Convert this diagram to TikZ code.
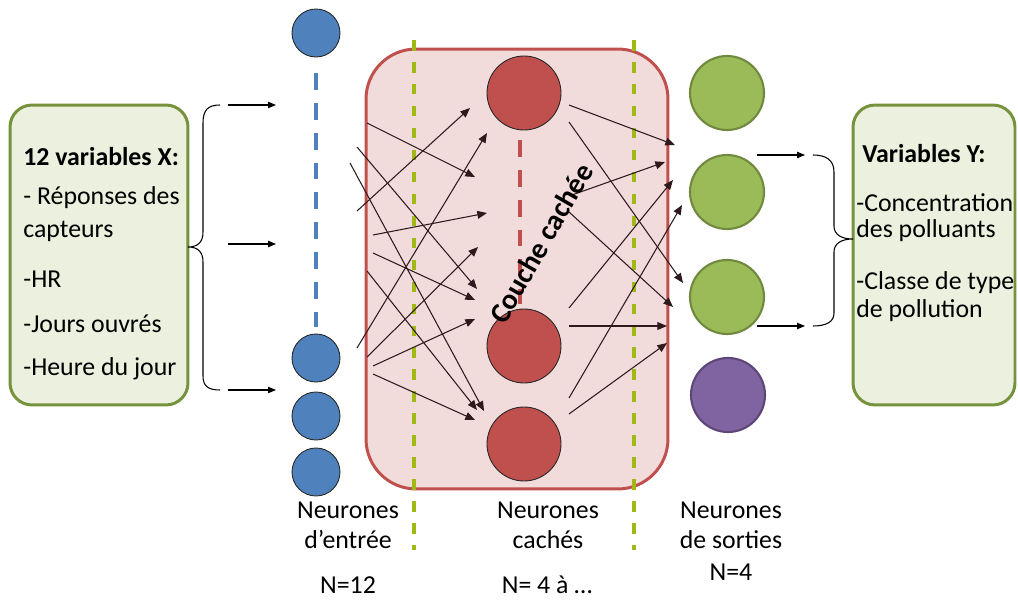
\documentclass[tikz,border=0pt]{standalone}
\usepackage{fontspec}
\setmainfont{Carlito}
\usetikzlibrary{arrows.meta}
\definecolor{boxfill}{HTML}{EBF1DE}
\definecolor{boxline}{HTML}{76923C}
\definecolor{inblue}{HTML}{4F81BD}
\definecolor{hidfill}{HTML}{F2DCDB}
\definecolor{hidred}{HTML}{C0504D}
\definecolor{outgreen}{HTML}{9BBB59}
\definecolor{outgreenline}{HTML}{71893F}
\definecolor{outpurple}{HTML}{8064A2}
\definecolor{outpurpleline}{HTML}{5C4776}
\definecolor{sepgreen}{RGB}{160,185,20}
\definecolor{conncol}{HTML}{2E1A1C}
\begin{document}
\begin{tikzpicture}[x=0.02cm,y=-0.02cm,
  every node/.style={font=\fontsize{14.7}{17.6}\selectfont},
  varbox/.style={draw=boxline, fill=boxfill, line width=1.7pt, rounded corners=0.44cm, minimum height=6cm, inner sep=0},
  hidbox/.style={draw=hidred, fill=hidfill, line width=1.7pt, rounded corners=1cm, minimum width=6.04cm, minimum height=8.8cm, inner sep=0},
  incirc/.style={circle, draw=black!85, fill=inblue, line width=0.5pt, minimum size=0.96cm, inner sep=0},
  hidcirc/.style={circle, draw=black!85, fill=hidred, line width=0.5pt, minimum size=1.48cm, inner sep=0},
  outcirc/.style={circle, draw=outgreenline, fill=outgreen, line width=1.2pt, minimum size=1.48cm, inner sep=0},
  purpcirc/.style={circle, draw=outpurpleline, fill=outpurple, line width=1.2pt, minimum size=1.48cm, inner sep=0},
  sepline/.style={draw=sepgreen, line width=2.1pt, dash pattern=on 6pt off 6.5pt},
  layerdash/.style={line width=2.3pt, dash pattern=on 9.6pt off 7.4pt},
  conn/.style={draw=conncol, line width=0.6pt, -{Triangle[length=5.5pt,width=4.5pt]}},
  outarrow/.style={draw=black, line width=0.6pt, -{Triangle[length=4.5pt,width=3.6pt]}},
  bracestyle/.style={draw=black, line width=0.6pt},
  txt/.style={anchor=base west, inner sep=0},
  lbl/.style={anchor=base, inner sep=0}
]
\useasboundingbox (0,0) rectangle (1018,601);

% hidden-layer box
\node[hidbox] (hbox) at (517,269) {};

% separators
\coordinate (sep1t) at (414,40);
\coordinate (sep1b) at (414,550);
\coordinate (sep2t) at (634,40);
\coordinate (sep2b) at (634,550);
\draw[sepline] (sep1t) -- (sep1b);
\draw[sepline] (sep2t) -- (sep2b);

% variable boxes
\node[varbox, minimum width=3.56cm] (xbox) at (99,255) {};
\node[varbox, minimum width=3.24cm] (ybox) at (934,255) {};

% input neurons
\node[incirc] (i1) at (316,33) {};
\node[incirc] (i2) at (316,358) {};
\node[incirc] (i3) at (316,416) {};
\node[incirc] (i4) at (316,472) {};
\coordinate (idt) at (316,73);
\coordinate (idb) at (316,327);
\draw[layerdash, draw=inblue] (idt) -- (idb);

% hidden neurons
\node[hidcirc] (h1) at (524,93) {};
\node[hidcirc] (h2) at (524,346) {};
\node[hidcirc] (h3) at (524,444) {};
\coordinate (hdt) at (520,140);
\coordinate (hdb) at (520,304);
\draw[layerdash, draw=hidred] (hdt) -- (hdb);

% output neurons
\node[outcirc] (o1) at (727,93) {};
\node[outcirc] (o2) at (727,192) {};
\node[outcirc] (o3) at (727,297) {};
\node[purpcirc] (o4) at (728,395) {};

% input -> hidden connections
\foreach \n/\sx/\sy/\tx/\ty in {a/367/123/475/177, b/357/147/477/289, c/350/163/484/411,
  d/357/211/470/108, e/373/235/487/213, f/373/253/475/300, g/367/271/477/410,
  h/357/348/487/133, i/367/357/478/247, j/373/366/475/319, k/373/374/475/420}{
  \coordinate (ls\n) at (\sx,\sy);
  \coordinate (lt\n) at (\tx,\ty);
  \draw[conn] (ls\n) -- (lt\n);
}
% hidden -> output connections
\foreach \n/\sx/\sy/\tx/\ty in {a/569/105/675/145, b/569/122/683/283, c/572/195/665/162,
  d/569/212/673/307, e/569/308/673/180, f/569/398/682/205, g/569/326/667/326, h/569/414/667/343}{
  \coordinate (rs\n) at (\sx,\sy);
  \coordinate (rt\n) at (\tx,\ty);
  \draw[conn] (rs\n) -- (rt\n);
}

% braces
\draw[bracestyle] (220,105) .. controls (208,105) and (203,110) .. (203,123) -- (203,232)
  .. controls (203,242) and (198,247) .. (188,247)
  .. controls (198,247) and (203,252) .. (203,262) -- (203,376)
  .. controls (203,386) and (208,390) .. (220,390);
\draw[bracestyle] (813,155) .. controls (826,155) and (834,160) .. (834,172) -- (834,226)
  .. controls (834,235) and (842,239) .. (853,239)
  .. controls (842,239) and (834,243) .. (834,252) -- (834,313)
  .. controls (834,322) and (826,326) .. (813,326);

% input arrows
\coordinate (ia1) at (228,105); \coordinate (ib1) at (276,105);
\coordinate (ia2) at (228,244); \coordinate (ib2) at (276,244);
\coordinate (ia3) at (228,390); \coordinate (ib3) at (276,390);
\draw[outarrow] (ia1) -- (ib1);
\draw[outarrow] (ia2) -- (ib2);
\draw[outarrow] (ia3) -- (ib3);
% output arrows
\coordinate (oa1) at (757,155); \coordinate (ob1) at (805,155);
\coordinate (oa2) at (757,326); \coordinate (ob2) at (805,326);
\draw[outarrow] (oa1) -- (ob1);
\draw[outarrow] (oa2) -- (ob2);

% left box text
\node[txt, font=\bfseries\fontsize{14.7}{17.6}\selectfont] (x1) at (23,166) {12 variables X:};
\node[txt] (x2) at (23,205) {- Réponses des};
\node[txt] (x3) at (23,238) {capteurs};
\node[txt] (x4) at (23,288) {-HR};
\node[txt] (x5) at (23,333) {-Jours ouvrés};
\node[txt] (x6) at (23,376) {-Heure du jour};

% right box text
\node[txt, font=\bfseries\fontsize{14.7}{17.6}\selectfont] (y1) at (862,163) {Variables Y:};
\node[txt] (y2) at (856,212) {-Concentration};
\node[txt] (y3) at (856,238) {des polluants};
\node[txt] (y4) at (856,290) {-Classe de type};
\node[txt] (y5) at (856,317) {de pollution};

% bottom labels
\node[lbl] (l1a) at (348,518) {Neurones};
\node[lbl] (l1b) at (348,548) {d’entrée};
\node[lbl] (l1c) at (348,593) {N=12};
\node[lbl] (l2a) at (548,518) {Neurones};
\node[lbl] (l2b) at (548,548) {cachés};
\node[lbl] (l2c) at (547,593) {N= 4 à …};
\node[lbl] (l3a) at (731,518) {Neurones};
\node[lbl] (l3b) at (731,548) {de sorties};
\node[lbl] (l3c) at (731,580) {N=4};

% rotated layer title
\node[rotate=60, font=\bfseries\fontsize{16.5}{20}\selectfont] (couche) at (541,243) {Couche cachée};
\end{tikzpicture}
\end{document}
